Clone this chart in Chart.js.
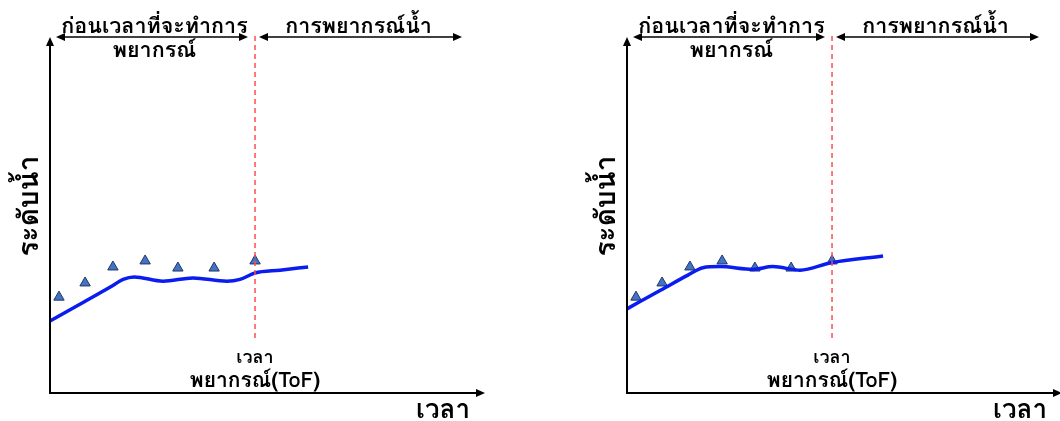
<!DOCTYPE html>
<html>
<head>
<meta charset="utf-8">
<script src="https://cdn.jsdelivr.net/npm/chart.js@4"></script>
<style>
  html, body { margin: 0; padding: 0; background: #fff; overflow: hidden; }
  body { width: 1060px; height: 421px; position: relative; }
  .panel { position: absolute; top: 0; width: 530px; height: 421px; }
</style>
</head>
<body>
<div class="panel" style="left:0"><canvas id="chartA" width="530" height="421"></canvas></div>
<div class="panel" style="left:577px"><canvas id="chartB" width="530" height="421"></canvas></div>
<script>
// observed water level (triangles), same in both panels
const obsTime = [0.31, 1.21, 2.17, 3.28, 4.41, 5.66, 7.07];
const obsLevel = [2.7, 3.1, 3.55, 3.72, 3.52, 3.52, 3.72];

// simulated curve, left panel
const simTimeA = [0, 1.2, 2.17, 2.52, 2.9, 3.9, 4.93, 6.1, 6.55, 7.07, 7.93, 8.9];
const simLevelA = [2.03, 2.58, 3.03, 3.2, 3.27, 3.15, 3.24, 3.15, 3.2, 3.38, 3.46, 3.55];

// simulated curve, right panel
const simTimeB = [0, 1.17, 2.1, 2.62, 3.2, 4.34, 5.03, 5.97, 7.03, 8.83];
const simLevelB = [2.37, 2.9, 3.32, 3.53, 3.56, 3.48, 3.56, 3.46, 3.67, 3.86];

// time of forecast
const tof = 7.07;
const tofLine = [1.55, 10.1];

const labels = {
  before: ['ก่อนเวลาที่จะทำการ', 'พยากรณ์'],
  after: 'การพยากรณ์น้ำ',
  yTitle: 'ระดับน้ำ',
  xTitle: 'เวลา',
  tof: ['เวลา', 'พยากรณ์(ToF)']
};

const FONT = 'Tahoma, Loma, Garuda, "Noto Sans Thai Looped", "Noto Sans Thai", "Noto Sans", sans-serif';

function arrowHead(ctx, x, y, dir) {
  // dir: 'up', 'right', 'left'
  ctx.beginPath();
  if (dir === 'up') { ctx.moveTo(x, y); ctx.lineTo(x - 4, y + 9); ctx.lineTo(x + 4, y + 9); }
  if (dir === 'right') { ctx.moveTo(x, y); ctx.lineTo(x - 9, y - 4); ctx.lineTo(x - 9, y + 4); }
  if (dir === 'left') { ctx.moveTo(x, y); ctx.lineTo(x + 9, y - 4); ctx.lineTo(x + 9, y + 4); }
  ctx.closePath();
  ctx.fill();
}

function doubleArrow(ctx, x1, x2, y) {
  ctx.lineWidth = 1.5;
  ctx.beginPath();
  ctx.moveTo(x1 + 4, y); ctx.lineTo(x2 - 4, y);
  ctx.stroke();
  arrowHead(ctx, x1, y, 'left');
  arrowHead(ctx, x2, y, 'right');
}

const decor = {
  id: 'decor',
  afterDraw(chart) {
    const ctx = chart.ctx;
    const a = chart.chartArea;
    const xs = chart.scales.x;
    const px = xs.getPixelForValue(tof);
    ctx.save();
    ctx.fillStyle = '#000';
    ctx.strokeStyle = '#000';

    // axes
    ctx.lineWidth = 2;
    ctx.beginPath();
    ctx.moveTo(a.left, a.top + 4);
    ctx.lineTo(a.left, a.bottom);
    ctx.lineTo(a.right - 4, a.bottom);
    ctx.stroke();
    arrowHead(ctx, a.left, a.top - 1, 'up');
    arrowHead(ctx, a.right, a.bottom, 'right');

    // period arrows
    doubleArrow(ctx, a.left + 6, px - 7, a.top - 1);
    doubleArrow(ctx, px + 4, a.right - 23, a.top - 1);

    ctx.textAlign = 'center';
    ctx.textBaseline = 'alphabetic';
    ctx.font = 'bold 21.5px ' + FONT;
    const leftMid = (a.left + px) / 2 + 2;
    ctx.fillText(labels.before[0], leftMid, 33);
    ctx.fillText(labels.before[1], leftMid, 57);
    ctx.fillText(labels.after, (px + a.right - 23) / 2, 33);

    // ToF label
    ctx.font = 'bold 18px ' + FONT;
    ctx.fillText(labels.tof[0], px, 363);
    ctx.font = 'bold 21px ' + FONT;
    ctx.fillText(labels.tof[1], px, 387);

    // axis titles
    ctx.font = 'bold 26px ' + FONT;
    ctx.fillText(labels.xTitle, a.right - 42, 418);
    ctx.font = 'bold 28px ' + FONT;
    ctx.translate(38, 206);
    ctx.rotate(-Math.PI / 2);
    ctx.fillText(labels.yTitle, 0, 0);
    ctx.restore();
  }
};

function makeChart(id, simTime, simLevel) {
  const ctx = document.getElementById(id).getContext('2d');
  return new Chart(ctx, {
    type: 'scatter',
    data: {
      datasets: [{
        label: 'ToF',
        type: 'line',
        data: tofLine.map(v => ({ x: tof, y: v })),
        borderColor: '#ff4d4d',
        borderWidth: 1.5,
        borderDash: [5, 4],
        pointRadius: 0,
        clip: false,
        order: 0
      }, {
        label: 'simulated',
        type: 'line',
        data: simTime.map((t, i) => ({ x: t, y: simLevel[i] })),
        borderColor: '#0a1cf0',
        borderWidth: 3.5,
        pointRadius: 0,
        cubicInterpolationMode: 'monotone',
        clip: false,
        order: 1
      }, {
        label: 'observed',
        data: obsTime.map((t, i) => ({ x: t, y: obsLevel[i] })),
        pointStyle: 'triangle',
        pointRadius: 6,
        backgroundColor: '#4472c4',
        borderColor: '#1f3864',
        borderWidth: 1,
        clip: false,
        order: 2
      }]
    },
    options: {
      responsive: false,
      animation: false,
      layout: { padding: { left: 50, top: 38, right: 45, bottom: 28 } },
      plugins: { legend: { display: false }, tooltip: { enabled: false } },
      scales: {
        x: { type: 'linear', min: 0, max: 15, display: false },
        y: { min: 0, max: 10, display: false }
      }
    },
    plugins: [decor]
  });
}

makeChart('chartA', simTimeA, simLevelA);
makeChart('chartB', simTimeB, simLevelB);
</script>
</body>
</html>
